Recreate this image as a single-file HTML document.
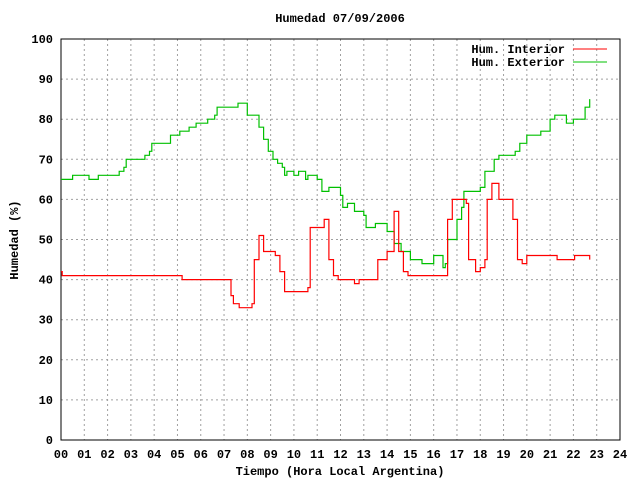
<!DOCTYPE html>
<html><head><meta charset="utf-8"><style>
body{margin:0;background:#fff}
svg text{font-family:"Liberation Mono",monospace;font-size:12px;font-weight:bold;fill:#000}
.ext{fill:none;stroke:#00c000;stroke-width:1.2px}
.int{fill:none;stroke:#ff0000;stroke-width:1.2px}
</style></head><body>
<svg id="chart" width="640" height="480" xmlns="http://www.w3.org/2000/svg">
<rect x="0" y="0" width="640" height="480" fill="#fff"/>
<g id="grid"></g>
<g id="axes"></g>
<g id="series"></g>
<text x="340" y="22" text-anchor="middle">Humedad 07/09/2006</text>
<text x="340" y="475" text-anchor="middle">Tiempo (Hora Local Argentina)</text>
<text transform="translate(18,240) rotate(-90)" text-anchor="middle">Humedad (%)</text>
<g>
<text x="565" y="53" text-anchor="end">Hum. Interior</text>
<line x1="573" y1="49" x2="607" y2="49" style="stroke:#ff0000"/>
</g>
<g>
<text x="565" y="66" text-anchor="end">Hum. Exterior</text>
<line x1="573" y1="62" x2="607" y2="62" style="stroke:#00c000"/>
</g>
</svg>
<script>
const xTicks=["00","01","02","03","04","05","06","07","08","09","10","11","12","13","14","15","16","17","18","19","20","21","22","23","24"];
const yTicks=[0,10,20,30,40,50,60,70,80,90,100];
const extHours=[0,0.5,0.5,1.2,1.2,1.6,1.6,2.3,2.5,2.7,2.8,3.5,3.6,3.8,3.9,4.6,4.7,5.1,5.5,5.8,6.2,6.3,6.6,6.7,7.5,7.6,7.9,8.0,8.4,8.5,8.7,8.9,9.1,9.3,9.5,9.6,9.7,10.0,10.2,10.5,10.6,11,11.2,11.5,12,12.1,12.3,12.6,13,13.1,13.5,14,14.3,14.6,15,15.5,16,16.4,16.5,16.6,17,17.2,17.3,18,18.2,18.6,18.8,19.5,19.7,20,20.6,21,21.2,21.6,21.7,22,22.2,22.5,22.7];
const extValues=[65,65,66,66,65,65,66,66,67,68,70,70,71,72,74,74,76,77,78,79,79,80,81,83,83,84,84,81,81,78,75,72,70,69,68,66,67,66,67,65,66,65,62,63,61,58,59,57,56,53,54,52,49,47,45,44,46,43,44,50,55,58,62,63,67,70,71,72,74,76,77,80,81,81,79,80,80,83,85];
const intHours=[0,0.05,5.1,5.2,7.1,7.3,7.4,7.6,7.65,8.2,8.3,8.5,8.7,9.0,9.2,9.4,9.6,10.4,10.6,10.7,11.2,11.3,11.5,11.7,11.9,12.4,12.6,12.8,13.4,13.6,14.0,14.3,14.5,14.7,14.9,16.3,16.6,16.8,17.4,17.5,17.8,18.0,18.2,18.3,18.5,18.8,19.3,19.4,19.6,19.8,20.0,21.2,21.3,22.0,22.05,22.6,22.7];
const intValues=[42,41,41,40,40,36,34,34,33,34,45,51,47,47,46,42,37,37,38,53,53,55,45,41,40,40,39,40,40,45,47,57,47,42,41,41,55,60,59,45,42,43,45,60,64,60,60,55,45,44,46,46,45,45,46,46,45];
const L=61,R=620,T=39,B=440,NS="http://www.w3.org/2000/svg";
const xs=h=>L+h*(R-L)/24, ys=v=>B-v*(B-T)/100;
const grid=document.getElementById('grid'),axes=document.getElementById('axes'),ser=document.getElementById('series');
function mk(tag,attrs,parent){const e=document.createElementNS(NS,tag);for(const k in attrs)e.setAttribute(k,attrs[k]);parent.appendChild(e);return e;}
xTicks.forEach((t,i)=>{const x=xs(i);
 if(i>0&&i<24){const g=mk('line',{x1:x,y1:T,x2:x,y2:B,style:'stroke:#a0a0a0;stroke-dasharray:2,3'},grid);
 
 }
 const tx=mk('text',{x:x,y:458,'text-anchor':'middle'},axes);tx.textContent=t;
 
 });
yTicks.forEach(v=>{const y=ys(v);
 if(v>0&&v<100){const g=mk('line',{x1:L,y1:y,x2:R,y2:y,style:'stroke:#a0a0a0;stroke-dasharray:2,3'},grid);
 
 }
 const tx=mk('text',{x:53,y:y+4,'text-anchor':'end'},axes);tx.textContent=v;
 
 });
const fr=mk('rect',{x:L,y:T,width:R-L,height:B-T,style:'fill:none;stroke:#000'},axes);


function stepPts(hs,vs){let p=[];for(let i=0;i<hs.length;i++){if(i>0)p.push(xs(hs[i]).toFixed(1)+','+ys(vs[i-1]).toFixed(1));p.push(xs(hs[i]).toFixed(1)+','+ys(vs[i]).toFixed(1));}return p.join(' ');}
const e=mk('polyline',{points:stepPts(extHours,extValues),'class':'ext'},ser);


const r=mk('polyline',{points:stepPts(intHours,intValues),'class':'int'},ser);


</script>
</body></html>
